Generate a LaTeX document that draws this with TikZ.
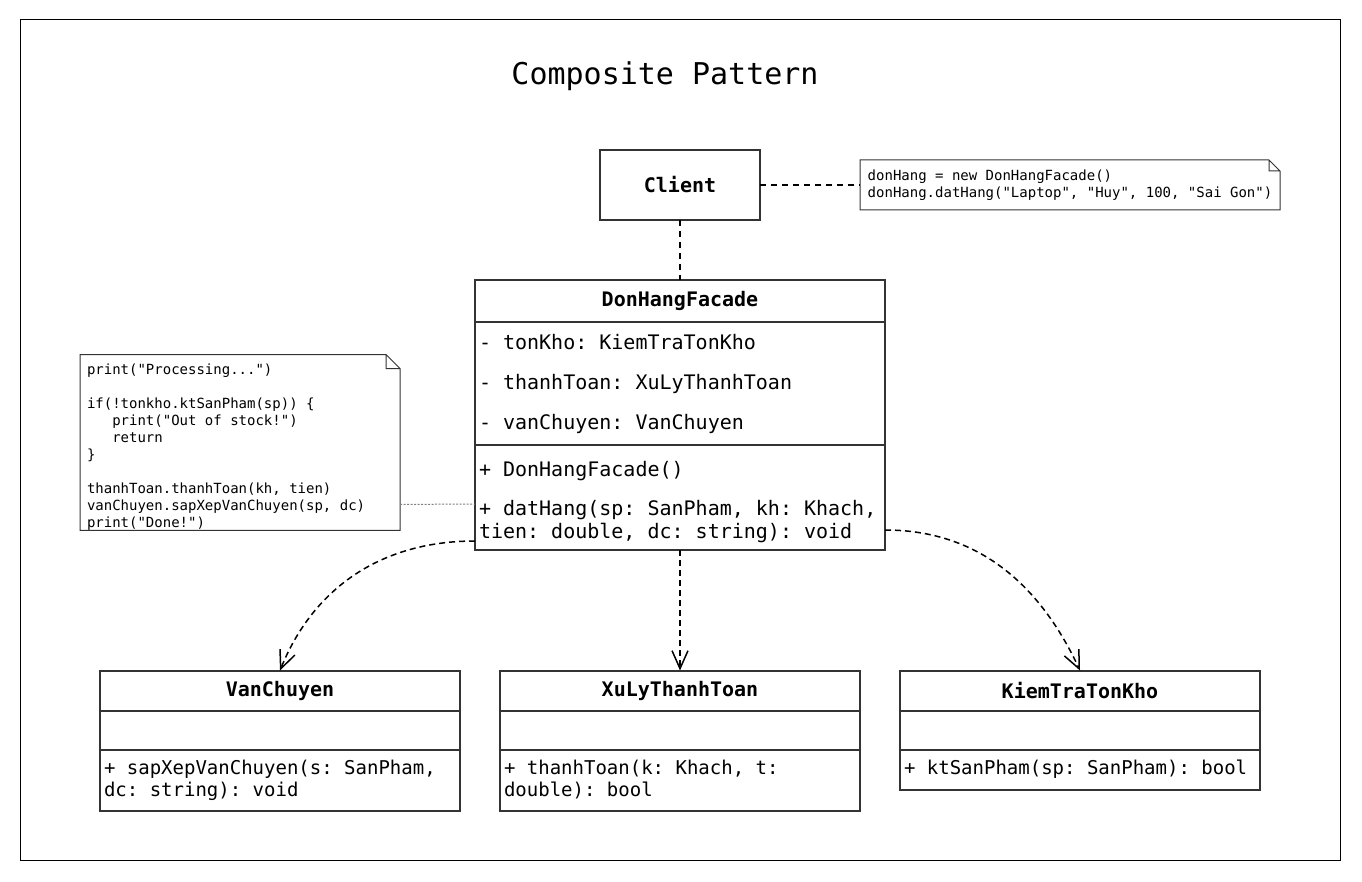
\documentclass[tikz,border=0pt]{standalone}
\usepackage{fontspec}
\setmonofont{DejaVu Sans Mono}
\usetikzlibrary{arrows.meta,positioning}

\begin{document}
\begin{tikzpicture}[x=1pt, y=1pt, font=\ttfamily,
		part/.style={draw=black!80, line width=2pt, outer sep=0pt, inner xsep=4pt, inner ysep=0pt, minimum width=#1},
		head/.style={part=#1, font=\ttfamily\bfseries\fontsize{20}{24}\selectfont},
		body/.style={part=#1, align=left, font=\ttfamily\fontsize{20}{22}\selectfont, execute at begin node={\frenchspacing\spaceskip=0pt\xspaceskip=0pt}},
		note/.style={outer sep=0pt, inner xsep=7pt, inner ysep=0pt, align=left, font=\ttfamily\fontsize{14}{17}\selectfont, execute at begin node={\frenchspacing\spaceskip=0pt\xspaceskip=0pt}},
		dep/.style={line width=1.5pt, dash pattern=on 6pt off 4pt, -{Straight Barb[length=18pt, width=16pt]}},
		link/.style={line width=1.5pt, dash pattern=on 6pt off 5pt},
		notelink/.style={gray, line width=1pt, dash pattern=on 2pt off 1.5pt}]
		\useasboundingbox (0,0) rectangle (1362,-882);
		\fill[white] (0,0) rectangle (1362,-882);
		\draw[line width=1pt] (20,-20) rectangle (1340,-860);
		\node[font=\ttfamily\fontsize{30}{36}\selectfont] (title) at (665,-76) {Composite Pattern};

		% client and the two notes
		\node[head=160pt, minimum height=70pt] (client) at (680,-185) {Client};
		\node[note, minimum width=420pt, minimum height=50pt] (note1) at (1070,-185) {donHang = new DonHangFacade()\\donHang.datHang("Laptop", "Huy", 100, "Sai Gon")};
		\node[note, text width=306pt, minimum height=175pt] (note2) at (240,-442.5) {\rule{0pt}{20pt}print("Processing...")\\[17pt]
			if(!tonkho.ktSanPham(sp)) \{\\
			\phantom{xxx}print("Out of stock!")\\
			\phantom{xxx}return\\
			\}\\[17pt]
			thanhToan.thanhToan(kh, tien)\\
			vanChuyen.sapXepVanChuyen(sp, dc)\\
			print("Done!")};
		\foreach \nt/\fold in {note1/11, note2/14}
			\draw[line width=1pt, black!80] (\nt.south west) -- (\nt.north west) -- ([xshift=-\fold pt]\nt.north east) -- ([yshift=-\fold pt]\nt.north east) -- (\nt.south east) -- cycle
				([xshift=-\fold pt]\nt.north east) |- ([yshift=-\fold pt]\nt.north east);

		% facade
		\node[head=410pt, minimum height=42pt] (fhead) at (680,-301) {DonHangFacade};
		\node[body=410pt, text width=402pt, minimum height=123pt, anchor=north, font=\ttfamily\fontsize{20}{40}\selectfont] (fattr) at (fhead.south) {- tonKho: KiemTraTonKho\\- thanhToan: XuLyThanhToan\\- vanChuyen: VanChuyen};
		\node[body=410pt, text width=402pt, minimum height=105pt, anchor=north, font=\ttfamily\fontsize{20}{23}\selectfont] (fmeth) at (fattr.south) {\rule{0pt}{25pt}+ DonHangFacade()\\[16pt]+ datHang(sp: SanPham, kh: Khach,\\tien: double, dc: string): void};

		% subsystem classes
		\foreach \nm/\cx/\ttl/\mh/\mth in {van/280/VanChuyen/61/{+ sapXepVanChuyen(s: SanPham,\\dc: string): void}, xu/680/XuLyThanhToan/61/{+ thanhToan(k: Khach, t:\\double): bool}, kiem/1080/KiemTraTonKho/40/{+ ktSanPham(sp: SanPham): bool}} {
			\node[head=360pt, minimum height=40pt, anchor=north] (\nm-head) at (\cx,-670.5) {\ttl};
			\node[part=360pt, minimum height=39pt, anchor=north] (\nm-attr) at (\nm-head.south) {};
			\node[body=360pt, text width=352pt, minimum height=\mh pt, anchor=north, font=\ttfamily\fontsize{19}{22}\selectfont] (\nm-meth) at (\nm-attr.south) {\mth};
		}

		\draw[link] (client.east) -- (note1.west);
		\draw[link] (client.south) -- (fhead.north);
		\draw[notelink] ([yshift=26pt]note2.south east) -- ([yshift=46pt]fmeth.south west);
		\draw[dep] (fmeth.south) -- (xu-head.north);
		\draw[dep] ([yshift=9pt]fmeth.south west) to[out=180, in=68] (van-head.north);
		\draw[dep] ([yshift=20pt]fmeth.south east) to[out=0, in=115] (kiem-head.north);
	\end{tikzpicture}
\end{document}
